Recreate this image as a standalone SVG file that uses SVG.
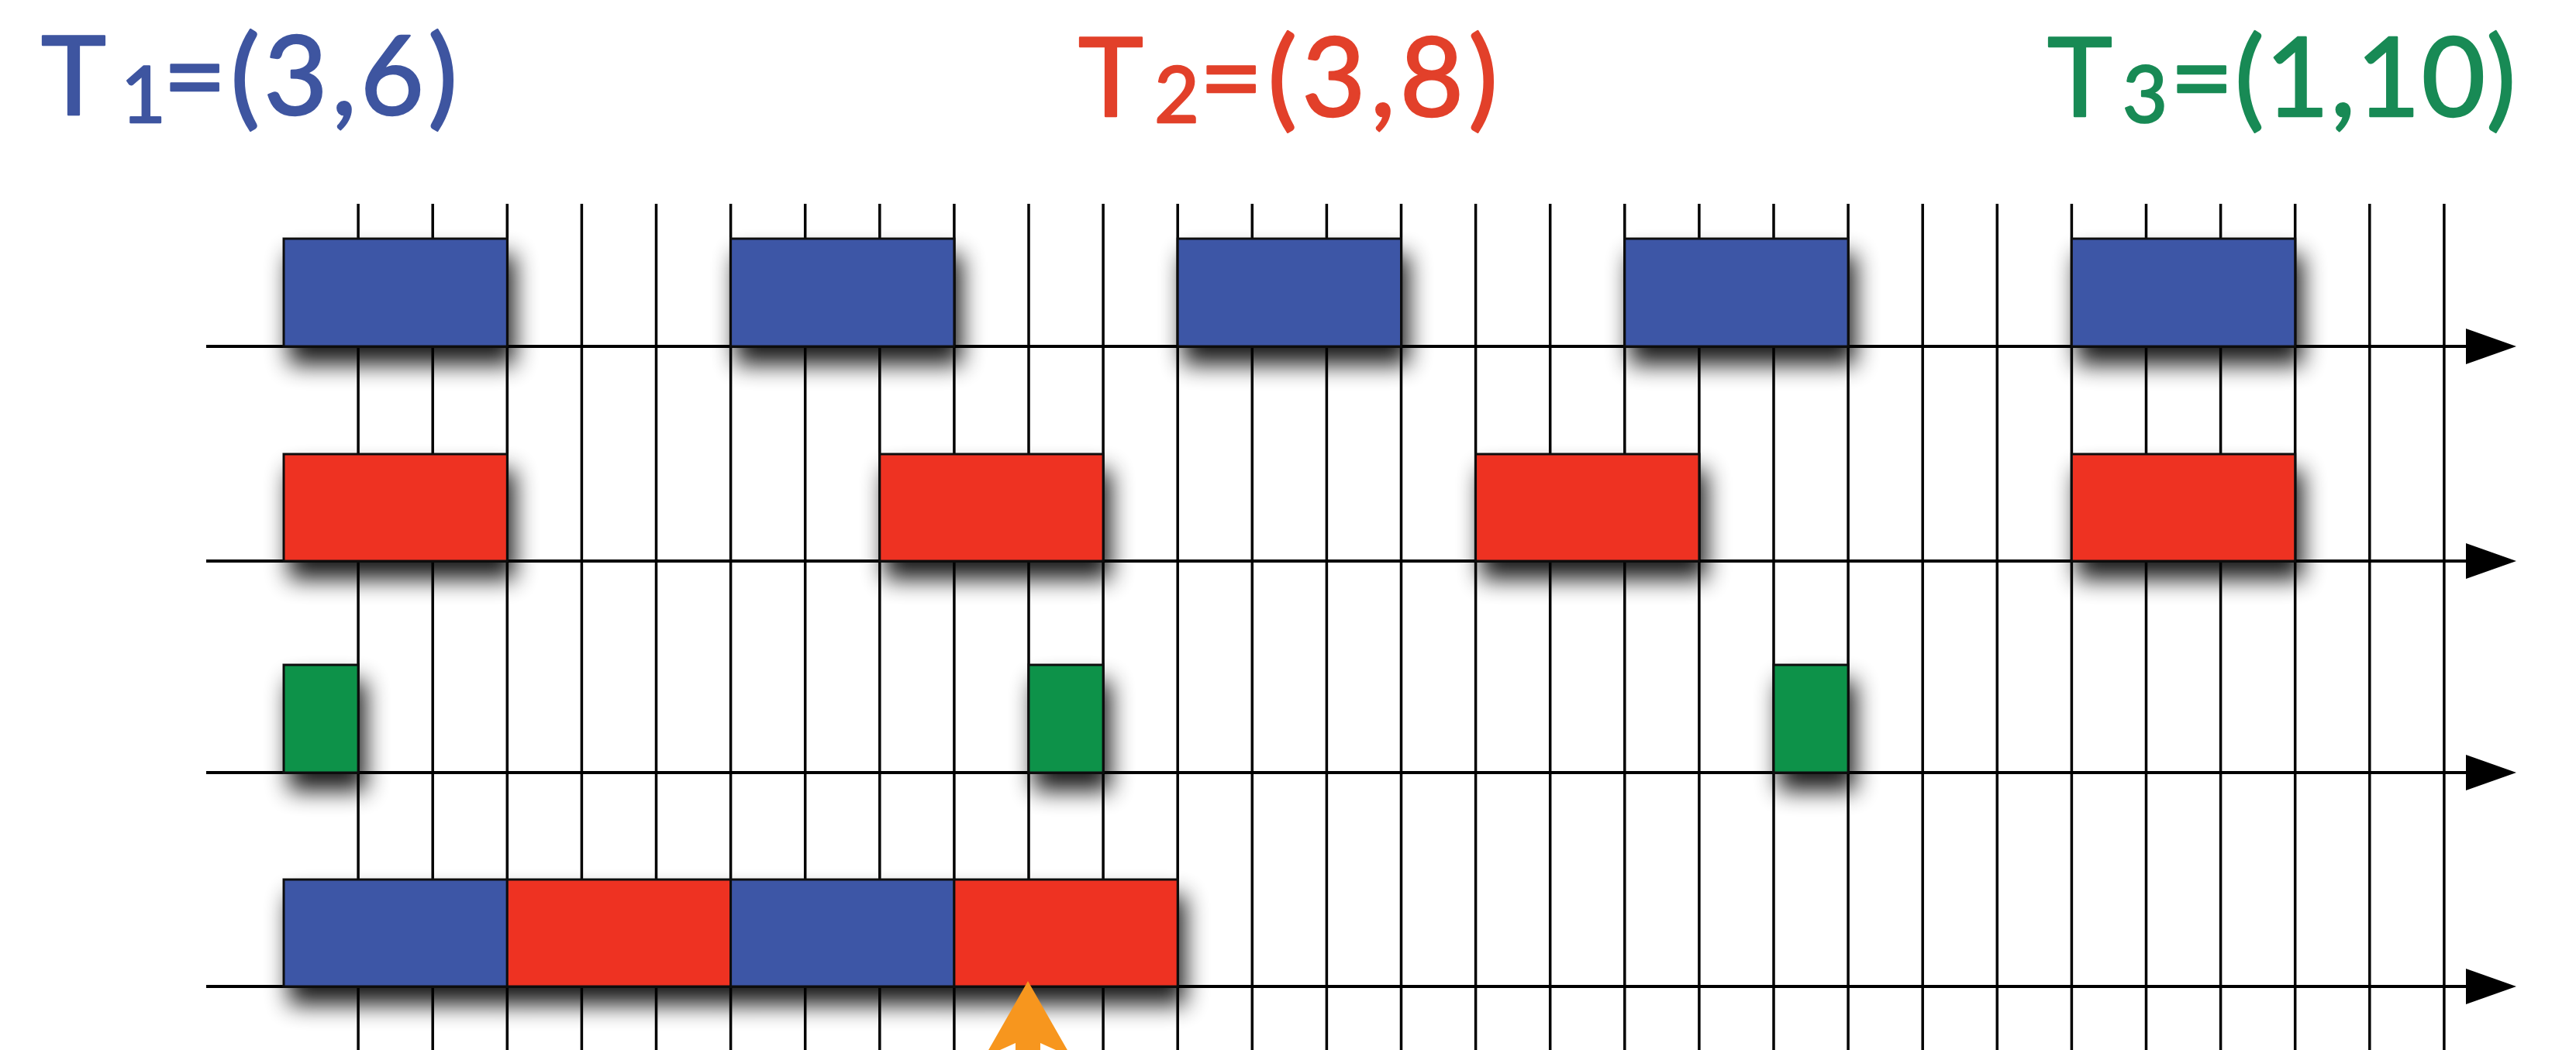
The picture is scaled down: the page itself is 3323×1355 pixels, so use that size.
<svg xmlns="http://www.w3.org/2000/svg" width="3323" height="1355" viewBox="0 0 3323 1355">
<style>
.title{font-family:Lato,"Open Sans","Liberation Sans",sans-serif;font-size:142px;font-weight:400;stroke-width:2.5;stroke-linejoin:round;}
.sub{font-size:100px;}
.grid line{stroke:#000;stroke-width:3.5;}
.axis line{stroke:#000;stroke-width:4;marker-end:url(#arr);}
.blk{stroke:#111;stroke-width:3;}
.b{fill:#3d56a6;}
.r{fill:#ee3124;}
.g{fill:#07924a;}
</style>
<defs>
<marker id="arr" viewBox="0 0 65 46" markerWidth="65" markerHeight="46" refX="10" refY="23" markerUnits="userSpaceOnUse" orient="auto">
<path d="M0,0 L65,23 L0,46 Z" fill="#000"/>
</marker>
<filter id="sh" x="-10%" y="-30%" width="130%" height="190%">
<feGaussianBlur in="SourceAlpha" stdDeviation="15"/>
<feOffset dx="8" dy="22" result="o"/>
<feComponentTransfer><feFuncA type="linear" slope="0.9"/></feComponentTransfer>
<feMerge><feMergeNode/><feMergeNode in="SourceGraphic"/></feMerge>
</filter>
</defs>
<rect width="3323" height="1355" fill="#fff"/>
<g id="titles" class="title">
<text id="t1" x="53" y="148" fill="#3e55a0" stroke="#3e55a0">T<tspan class="sub" x="156" dy="10">1</tspan><tspan x="210" dy="-10" letter-spacing="5">=(3,6)</tspan></text>
<text id="t2" x="1391" y="150" fill="#e2402a" stroke="#e2402a">T<tspan class="sub" x="1489" dy="8">2</tspan><tspan x="1547" dy="-8" letter-spacing="6">=(3,8)</tspan></text>
<text id="t3" x="2641" y="150" fill="#188a55" stroke="#188a55">T<tspan class="sub" x="2738" dy="8">3</tspan><tspan x="2799" dy="-8" letter-spacing="1.5">=(1,10)</tspan></text>
</g>
<g id="grid" class="grid">
<line x1="462.1" y1="263" x2="462.1" y2="1355"/>
<line x1="558.2" y1="263" x2="558.2" y2="1355"/>
<line x1="654.3" y1="263" x2="654.3" y2="1355"/>
<line x1="750.4" y1="263" x2="750.4" y2="1355"/>
<line x1="846.5" y1="263" x2="846.5" y2="1355"/>
<line x1="942.6" y1="263" x2="942.6" y2="1355"/>
<line x1="1038.7" y1="263" x2="1038.7" y2="1355"/>
<line x1="1134.8" y1="263" x2="1134.8" y2="1355"/>
<line x1="1230.9" y1="263" x2="1230.9" y2="1355"/>
<line x1="1327" y1="263" x2="1327" y2="1355"/>
<line x1="1423.1" y1="263" x2="1423.1" y2="1355"/>
<line x1="1519.2" y1="263" x2="1519.2" y2="1355"/>
<line x1="1615.3" y1="263" x2="1615.3" y2="1355"/>
<line x1="1711.4" y1="263" x2="1711.4" y2="1355"/>
<line x1="1807.5" y1="263" x2="1807.5" y2="1355"/>
<line x1="1903.6" y1="263" x2="1903.6" y2="1355"/>
<line x1="1999.7" y1="263" x2="1999.7" y2="1355"/>
<line x1="2095.8" y1="263" x2="2095.8" y2="1355"/>
<line x1="2191.9" y1="263" x2="2191.9" y2="1355"/>
<line x1="2288" y1="263" x2="2288" y2="1355"/>
<line x1="2384.1" y1="263" x2="2384.1" y2="1355"/>
<line x1="2480.2" y1="263" x2="2480.2" y2="1355"/>
<line x1="2576.3" y1="263" x2="2576.3" y2="1355"/>
<line x1="2672.4" y1="263" x2="2672.4" y2="1355"/>
<line x1="2768.5" y1="263" x2="2768.5" y2="1355"/>
<line x1="2864.6" y1="263" x2="2864.6" y2="1355"/>
<line x1="2960.7" y1="263" x2="2960.7" y2="1355"/>
<line x1="3056.8" y1="263" x2="3056.8" y2="1355"/>
<line x1="3152.9" y1="263" x2="3152.9" y2="1355"/>
</g>
<g id="connectors" class="axis">
<line id="axis1" x1="266" y1="447" x2="3191" y2="447"/>
<line id="axis2" x1="266" y1="724" x2="3191" y2="724"/>
<line id="axis3" x1="266" y1="997" x2="3191" y2="997"/>
<line id="axis4" x1="266" y1="1273" x2="3191" y2="1273"/>
</g>
<g id="row1" filter="url(#sh)">
<g id="t1-job1"><rect class="blk b" x="366" y="308" width="288.3" height="139"/></g>
<g id="t1-job2"><rect class="blk b" x="942.6" y="308" width="288.3" height="139"/></g>
<g id="t1-job3"><rect class="blk b" x="1519.2" y="308" width="288.3" height="139"/></g>
<g id="t1-job4"><rect class="blk b" x="2095.8" y="308" width="288.3" height="139"/></g>
<g id="t1-job5"><rect class="blk b" x="2672.4" y="308" width="288.3" height="139"/></g>
</g>
<g id="row2" filter="url(#sh)">
<g id="t2-job1"><rect class="blk r" x="366" y="586" width="288.3" height="138"/></g>
<g id="t2-job2"><rect class="blk r" x="1134.8" y="586" width="288.3" height="138"/></g>
<g id="t2-job3"><rect class="blk r" x="1903.6" y="586" width="288.3" height="138"/></g>
<g id="t2-job4"><rect class="blk r" x="2672.4" y="586" width="288.3" height="138"/></g>
</g>
<g id="row3" filter="url(#sh)">
<g id="t3-job1"><rect class="blk g" x="366" y="858" width="96.1" height="139"/></g>
<g id="t3-job2"><rect class="blk g" x="1327" y="858" width="96.1" height="139"/></g>
<g id="t3-job3"><rect class="blk g" x="2288" y="858" width="96.1" height="139"/></g>
</g>
<g id="row4" filter="url(#sh)">
<g id="s-1"><rect class="blk b" x="366" y="1135" width="288.3" height="138"/></g>
<g id="s-2"><rect class="blk r" x="654.3" y="1135" width="288.3" height="138"/></g>
<g id="s-3"><rect class="blk b" x="942.6" y="1135" width="288.3" height="138"/></g>
<g id="s-4"><rect class="blk r" x="1230.9" y="1135" width="288.3" height="138"/></g>
</g>
<g id="pointer">
<path d="M1326,1266 L1382,1364 L1342,1346 L1342,1360 L1310,1360 L1310,1346 L1270,1364 Z" fill="#f7961e"/>
</g>
</svg>
